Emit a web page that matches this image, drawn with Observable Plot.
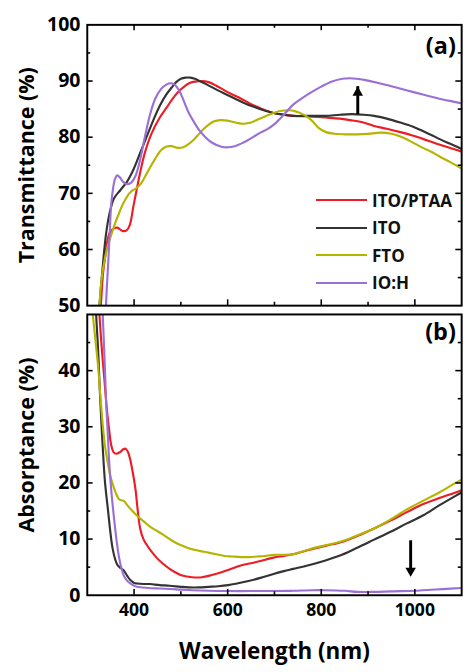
<!DOCTYPE html>
<html>
<head>
<meta charset="utf-8">
<script src="https://cdn.jsdelivr.net/npm/d3@7"></script>
<script src="https://cdn.jsdelivr.net/npm/@observablehq/plot@0.6"></script>
<style>
html, body { margin: 0; padding: 0; background: #fff; width: 468px; height: 672px; overflow: hidden; }
#wrap { position: relative; width: 468px; height: 672px; overflow: hidden; font-family: "Open Sans", sans-serif; }
#top, #bot { position: absolute; left: 0; }
#top { top: 0; }
#bot { top: 313px; }
#legend { position: absolute; left: 316px; top: 186.5px; }
#legend .row { display: flex; align-items: center; height: 27.5px; }
#legend .sw { width: 51px; height: 2.4px; margin-right: 5px; }
#legend .lb { font-size: 17px; font-weight: bold; color: #111; line-height: 1; }
</style>
</head>
<body>
<div id="wrap">
  <div id="top"></div>
  <div id="bot"></div>
  <div id="legend"></div>
</div>
<script>
// ---- tick values ----
const wlTicksMajor = [400, 600, 800, 1000];
const wlTicksMinor = [500, 700, 900];
const tTickLabels = [50, 60, 70, 80, 90, 100];
const tTicksMajor = [60, 70, 80, 90];
const tTicksMinor = [55, 65, 75, 85, 95];
const aTickLabels = [0, 10, 20, 30, 40];
const aTicksMajor = [10, 20, 30, 40];
const aTicksMinor = [5, 15, 25, 35, 45];

// ---- series ----
const series = ["ITO/PTAA", "ITO", "FTO", "IO:H"];
const colors = ["#ee1c24", "#333333", "#b5b400", "#9b70d6"];

// Transmittance (%) vs wavelength (nm)
const transITOPTAA = [[322,40],[329,50],[334,56],[338,58.5],[342,61],[347,62.8],[354,63.6],[364,63.9],[375,63.3],[384,63.4],[391,64.4],[399,67.9],[406,70.8],[413,73.7],[423,77.2],[437,80.6],[455,83.5],[469,85.2],[483,86.9],[497,88.3],[510,89.2],[520,89.7],[531,89.9],[545,90.0],[559,89.8],[575,89.2],[594,88.3],[610,87.6],[628,86.9],[645,86.1],[663,85.4],[680,84.8],[698,84.3],[720,84.0],[740,83.8],[775,83.7],[809,83.5],[840,83.3],[865,83.0],[890,82.6],[913,82.0],[940,81.5],[969,80.9],[995,80.3],[1017,79.7],[1052,78.7],[1090,77.7],[1100,77.4]];
const transITO = [[318,40],[326,50],[333,56.9],[340,62.7],[347,66.2],[357,69.1],[371,70.6],[385,72.1],[399,74.3],[413,77.2],[427,80.1],[441,83],[455,85.6],[468,87.5],[480,88.8],[490,89.8],[500,90.4],[510,90.6],[520,90.6],[530,90.4],[540,90.0],[555,89.4],[573,88.6],[595,87.7],[615,86.9],[635,86.1],[656,85.4],[677,84.8],[698,84.3],[720,84.0],[740,83.8],[775,83.8],[809,83.8],[840,84.0],[865,84.1],[890,84.0],[913,83.8],[940,83.3],[969,82.6],[995,81.9],[1017,81.1],[1035,80.4],[1052,79.7],[1070,79.0],[1090,78.3],[1100,77.9]];
const transFTO = [[315,35],[326,50],[331,55],[337,58.1],[342,60],[347,61.5],[354,63.3],[361,65],[368,66.5],[375,67.9],[382,69],[389,69.9],[396,70.5],[403,70.8],[410,71.3],[417,72],[430,74],[444,76],[458,77.7],[468,78.3],[480,78.4],[493,78.1],[505,78.2],[517,78.8],[528,79.6],[538,80.5],[549,81.5],[559,82.2],[570,82.8],[580,83.0],[594,83.0],[608,82.8],[622,82.5],[635,82.4],[650,82.6],[663,83.1],[680,83.7],[698,84.3],[715,84.7],[730,84.8],[745,84.6],[760,84.1],[774,83.4],[785,82.5],[795,81.6],[810,80.9],[830,80.6],[855,80.5],[878,80.5],[900,80.6],[927,80.8],[950,80.6],[969,80.1],[990,79.3],[1017,78.1],[1035,77.4],[1052,76.6],[1070,75.8],[1090,74.9],[1100,74.4]];
const transIOH = [[335,35],[340,50],[345,58],[348,63],[351,67.9],[355,70.8],[359,72.5],[364,73.2],[369,72.9],[375,72.2],[382,71.7],[392,71.8],[403,73.1],[413,76],[423,80],[434,84],[445,86.8],[458,88.6],[470,89.4],[478,89.6],[486,89.4],[497,88.2],[507,86.3],[517,84.3],[528,82.7],[538,81.4],[550,80.2],[565,79.1],[587,78.3],[601,78.2],[615,78.4],[630,78.9],[642,79.4],[656,80.1],[670,80.8],[684,81.4],[698,82.2],[720,84.0],[740,85.8],[760,87],[781,88.1],[800,89],[823,89.9],[845,90.4],[861,90.5],[876,90.4],[892,90.2],[920,89.7],[948,89.1],[980,88.4],[1017,87.6],[1050,86.9],[1090,86.2],[1100,86.0]];

// Absorptance (%) vs wavelength (nm)
const absITOPTAA = [[320,60],[326,50],[331,44],[337,38],[342,33],[347,29.3],[351,26.8],[356,25.5],[362,25.2],[370,25.5],[377,26],[382,26.1],[387,25.5],[392,24.1],[398,21.5],[403,18.9],[408,15],[413,11.9],[420,10],[427,9.0],[437,7.8],[448,6.7],[462,5.6],[476,4.7],[490,4],[503,3.5],[524,3.2],[545,3.2],[566,3.6],[587,4.1],[608,4.7],[628,5.3],[650,5.7],[670,6.1],[698,6.7],[720,7.0],[740,7.3],[775,8.1],[809,8.8],[844,9.5],[878,10.6],[913,11.9],[948,13.3],[983,14.8],[1017,16.2],[1052,17.3],[1087,18.3],[1100,18.7]];
const absITO = [[315,60],[319,50],[323,44],[326,38],[330,31],[333,26.4],[338,20],[344,15.4],[349,11.5],[354,8.4],[360,6.3],[365,5.3],[372,4.8],[378,4.4],[385,3.5],[392,2.7],[400,2.2],[406,2.1],[420,2.0],[434,2.0],[455,1.8],[476,1.7],[500,1.5],[517,1.4],[540,1.4],[559,1.5],[580,1.6],[601,1.8],[620,2.1],[642,2.5],[670,3.1],[698,3.8],[720,4.3],[740,4.7],[775,5.4],[809,6.2],[844,7.2],[878,8.5],[913,9.9],[948,11.3],[983,12.8],[1017,14.2],[1052,16],[1087,17.7],[1100,18.3]];
const absFTO = [[305,60],[312,50],[318,45],[323,40.9],[328,35.5],[333,30.4],[338,26.5],[344,23.5],[350,21],[358,18.9],[363,17.8],[368,17.1],[373,16.9],[378,16.8],[385,16.1],[392,15.4],[400,14.7],[410,13.9],[420,13.2],[434,12.2],[448,11.5],[462,10.8],[476,10.0],[490,9.3],[507,8.7],[524,8.2],[540,7.9],[559,7.6],[576,7.3],[594,7.0],[610,6.9],[628,6.8],[645,6.8],[663,6.9],[680,7.0],[698,7.2],[720,7.2],[740,7.3],[775,8.2],[809,8.9],[844,9.6],[878,10.7],[913,11.9],[948,13.5],[983,15.3],[1017,16.8],[1052,18.3],[1087,20],[1100,20.6]];
const absIOH = [[328,65],[333,50],[337,42],[340,35],[344,28.5],[347,23.5],[352,18],[358,13.1],[363,9.5],[368,6.7],[373,4.8],[378,3.5],[385,2.6],[392,2.1],[400,1.7],[406,1.5],[430,1.3],[455,1.2],[490,1.05],[524,0.9],[560,0.8],[594,0.75],[650,0.75],[698,0.75],[740,0.8],[780,0.9],[809,0.9],[850,0.8],[878,0.6],[913,0.6],[950,0.7],[1000,0.8],[1017,0.9],[1060,1.1],[1100,1.3]];

// annotation arrows (wavelength, from value, to value)
const arrowTop = [{wl: 878, from: 85.4, to: 89.0}];
const arrowBottom = [{wl: 991, from: 9.7, to: 3.3}];

// ---- build tables ----
const toRows = (lists) => lists.flatMap((arr, i) => arr.map(([wl, v]) => ({wl, v, s: series[i]})));
const transRows = toRows([transITOPTAA, transITO, transFTO, transIOH]);
const absRows = toRows([absITOPTAA, absITO, absFTO, absIOH]);

const W = 480, ML = 89, MR = 7;
const innerW = W - ML - MR;
const font = "'Open Sans', sans-serif";
const colorScale = {domain: series, range: colors};
const xDomain = [300, 1100];
const fmt = d => String(d);

function ticksMarks(yMajor, yMinor, innerH, topTicks) {
  const k = "#000";
  const m = [
    Plot.tickY(yMajor, {y: d => d, insetRight: innerW - 6, stroke: k, strokeWidth: 1.6}),
    Plot.tickY(yMinor, {y: d => d, insetRight: innerW - 3.5, stroke: k, strokeWidth: 1.6}),
    Plot.tickY(yMajor, {y: d => d, insetLeft: innerW - 6, stroke: k, strokeWidth: 1.6}),
    Plot.tickY(yMinor, {y: d => d, insetLeft: innerW - 3.5, stroke: k, strokeWidth: 1.6}),
    Plot.tickX(wlTicksMajor, {x: d => d, insetTop: innerH - 6, stroke: k, strokeWidth: 1.6}),
    Plot.tickX(wlTicksMinor, {x: d => d, insetTop: innerH - 3.5, stroke: k, strokeWidth: 1.6})
  ];
  if (topTicks) {
    m.push(Plot.tickX(wlTicksMajor, {x: d => d, insetBottom: innerH - 6, stroke: k, strokeWidth: 1.6}));
    m.push(Plot.tickX(wlTicksMinor, {x: d => d, insetBottom: innerH - 3.5, stroke: k, strokeWidth: 1.6}));
  }
  return m;
}

// ---- top panel: transmittance ----
const topH = 314, topMT = 25, topMB = 1;
const topPlot = Plot.plot({
  width: W, height: topH,
  marginLeft: ML, marginRight: MR, marginTop: topMT, marginBottom: topMB,
  style: {fontFamily: font, background: "transparent", overflow: "visible"},
  x: {domain: xDomain, axis: null},
  y: {domain: [50, 100]},
  color: colorScale,
  marks: [
    Plot.line(transRows, {x: "wl", y: "v", z: "s", stroke: "s", curve: "catmull-rom", strokeWidth: 2.2, clip: true}),
    Plot.ruleX(arrowTop, {x: "wl", y1: "from", y2: "to", insetTop: 8, stroke: "#000", strokeWidth: 3}),
    Plot.dot(arrowTop, {x: "wl", y: "to", symbol: "triangle", r: 4, fill: "#000", stroke: null, dy: 6.2}),
    ...ticksMarks(tTicksMajor, tTicksMinor, topH - topMT - topMB, true),
    Plot.frame({stroke: "#000", strokeWidth: 2}),
    Plot.axisY({ticks: tTickLabels, tickSize: 0, tickPadding: 7, fontSize: 20, fontWeight: "bold", label: null, tickFormat: fmt}),
    Plot.text(["Transmittance (%)"], {frameAnchor: "left", text: d => d, rotate: -90, dx: -62, textAnchor: "middle", lineAnchor: "middle", fontSize: 22, fontWeight: "bold"}),
    Plot.text(["(a)"], {frameAnchor: "top-right", text: d => d, textAnchor: "end", lineAnchor: "top", dx: -6, dy: 13, fontSize: 24, fontWeight: "bold"})
  ]
});
document.getElementById("top").append(topPlot);

// ---- bottom panel: absorptance ----
const botH = 359, botMT = 1, botMB = 70;
const botPlot = Plot.plot({
  width: W, height: botH,
  marginLeft: ML, marginRight: MR, marginTop: botMT, marginBottom: botMB,
  style: {fontFamily: font, background: "transparent", overflow: "visible"},
  x: {domain: xDomain},
  y: {domain: [0, 50]},
  color: colorScale,
  marks: [
    Plot.line(absRows, {x: "wl", y: "v", z: "s", stroke: "s", curve: "catmull-rom", strokeWidth: 2.2, clip: true}),
    Plot.ruleX(arrowBottom, {x: "wl", y1: "from", y2: "to", insetBottom: 8, stroke: "#000", strokeWidth: 3}),
    Plot.dot(arrowBottom, {x: "wl", y: "to", symbol: "triangle", r: 4, rotate: 180, fill: "#000", stroke: null, dy: -6.2}),
    ...ticksMarks(aTicksMajor, aTicksMinor, botH - botMT - botMB, false),
    Plot.frame({stroke: "#000", strokeWidth: 2}),
    Plot.axisY({ticks: aTickLabels, tickSize: 0, tickPadding: 7, fontSize: 20, fontWeight: "bold", label: null, tickFormat: fmt}),
    Plot.axisX({ticks: wlTicksMajor, tickSize: 0, tickPadding: 9, fontSize: 18, fontWeight: "bold", label: null, tickFormat: fmt}),
    Plot.text(["Absorptance (%)"], {frameAnchor: "left", text: d => d, rotate: -90, dx: -62, dy: -10, textAnchor: "middle", lineAnchor: "middle", fontSize: 22, fontWeight: "bold"}),
    Plot.text(["Wavelength (nm)"], {frameAnchor: "bottom", text: d => d, dy: 58, textAnchor: "middle", lineAnchor: "middle", fontSize: 23, fontWeight: "bold"}),
    Plot.text(["(b)"], {frameAnchor: "top-right", text: d => d, textAnchor: "end", lineAnchor: "top", dx: -6, dy: 9, fontSize: 24, fontWeight: "bold"})
  ]
});
document.getElementById("bot").append(botPlot);

// ---- legend ----
const legend = document.getElementById("legend");
series.forEach((s, i) => {
  const row = document.createElement("div");
  row.className = "row";
  const sw = document.createElement("span");
  sw.className = "sw";
  sw.style.background = colors[i];
  const lb = document.createElement("span");
  lb.className = "lb";
  lb.textContent = s;
  row.append(sw, lb);
  legend.append(row);
});
</script>
</body>
</html>
